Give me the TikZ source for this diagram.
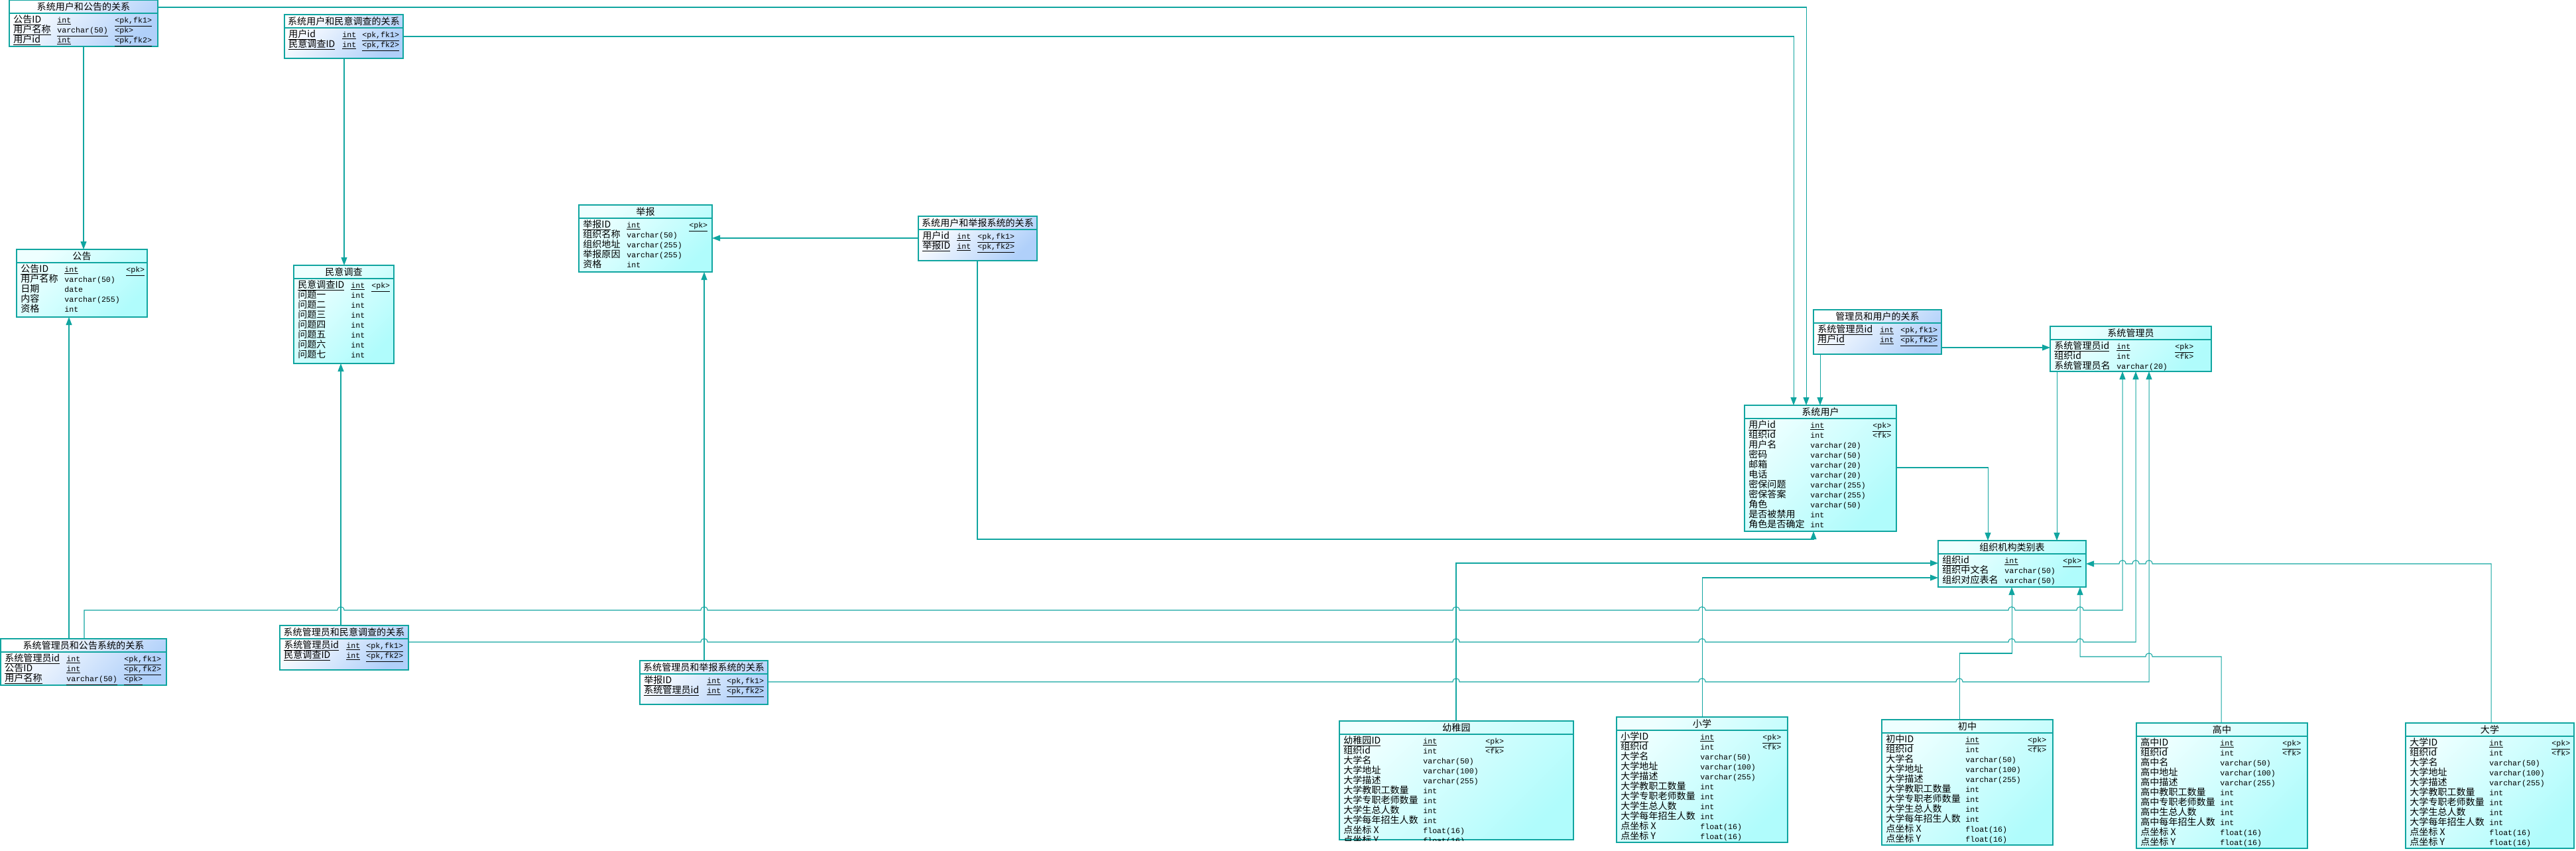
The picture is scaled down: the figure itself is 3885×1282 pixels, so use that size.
\documentclass[tikz,border=0pt]{standalone}
\usepackage{fontspec}
\setmainfont{Noto Sans CJK SC}
\newfontfamily\ermono{Liberation Mono}
\usetikzlibrary{arrows.meta, calc}
\definecolor{erline}{RGB}{16,165,160}
\definecolor{entA}{RGB}{238,255,255}
\definecolor{entB}{RGB}{176,252,252}
\definecolor{relA}{RGB}{255,255,255}
\definecolor{relB}{RGB}{176,208,250}
\newcommand{\erfont}{\fontsize{8pt}{9pt}\selectfont}
\newcommand{\typefont}{\fontsize{6.6pt}{8pt}\ermono}
\newcommand{\hop}[2]{-- (#1-5,#2) .. controls (#1-5,#2-7) and (#1+5,#2-7) .. (#1+5,#2)}
\newcommand{\hopl}[2]{-- (#1+5,#2) .. controls (#1+5,#2-7) and (#1-5,#2-7) .. (#1-5,#2)}
\newcommand{\ertable}[7]{%
  \node[#2, minimum width=#5*0.02cm, minimum height=#6*0.02cm] (#1) at (#3,#4) {};
  \node[ttl] at ($(#1.north)+(0,10)$) {#7};
  \draw[tline] ($(#1.north west)+(0,20)$) -- ($(#1.north east)+(0,20)$);}
\newcommand{\erfields}[4]{%
  \foreach \rowname/\rowtype/\rowkey/\rowul [count=\i from 0] in {#4}{%
    \ifnum\rowul=1 \let\rowfmt\underline \else \let\rowfmt\relax \fi
    \node[fld] at ($(#1.north west)+(6,34+15*\i)$) {\rowfmt{\rowname}};
    \node[fld, font=\typefont] at ($(#1.north west)+(#2,34+15*\i)$) {\rowfmt{\rowtype}};
    \node[fld, font=\typefont] at ($(#1.north west)+(#3,34+15*\i)$) {\rowfmt{\rowkey}};}}
\newcommand{\schoolfields}[3]{\erfields{#1}{126}{220}{%
  {#2}/int/{<pk>}/1, 组织id/int/{<fk>}/0, #3名/varchar(50)//0, #3地址/varchar(100)//0,
  #3描述/varchar(255)//0, #3教职工数量/int//0, #3专职老师数量/int//0, #3生总人数/int//0,
  #3每年招生人数/int//0, 点坐标 X/float(16)//0, 点坐标 Y/float(16)//0}}

\begin{document}
\begin{tikzpicture}[x=0.02cm, y=-0.02cm,
  tbl/.style={anchor=north west, inner sep=0, outer sep=0, draw=erline, line width=0.7pt},
  ent/.style={tbl, left color=entA, right color=entB, shading angle=45},
  rel/.style={tbl, left color=relA, right color=relB, shading angle=45},
  ttl/.style={inner sep=0, font=\erfont},
  fld/.style={anchor=base west, inner sep=0, font=\erfont},
  tline/.style={draw=erline, line width=0.7pt},
  fk/.style={draw=erline, line width=0.6pt, -{Triangle[length=2.4mm,width=1.8mm]}}]
\path[use as bounding box, fill=white] (0,0) rectangle (3885,1282);

\ertable{yhgg}{rel}{14}{0}{224}{70}{系统用户和公告的关系}
\erfields{yhgg}{72}{159}{公告ID/int/{<pk,fk1>}/1, 用户名称/varchar(50)/{<pk>}/1, 用户id/int/{<pk,fk2>}/1}
\ertable{yhmy}{rel}{429}{22}{179}{66}{系统用户和民意调查的关系}
\erfields{yhmy}{87}{117}{用户id/int/{<pk,fk1>}/1, 民意调查ID/int/{<pk,fk2>}/1}
\ertable{gonggao}{ent}{25}{376}{197}{102}{公告}
\erfields{gonggao}{72}{165}{公告ID/int/{<pk>}/1, 用户名称/varchar(50)//0, 日期/date//0, 内容/varchar(255)//0, 资格/int//0}
\ertable{minyi}{ent}{443}{400}{151}{148}{民意调查}
\erfields{minyi}{86}{117}{民意调查ID/int/{<pk>}/1, 问题一/int//0, 问题二/int//0, 问题三/int//0, 问题四/int//0, 问题五/int//0, 问题六/int//0, 问题七/int//0}
\ertable{jubao}{ent}{873}{309}{201}{101}{举报}
\erfields{jubao}{72}{166}{举报ID/int/{<pk>}/1, 组织名称/varchar(50)//0, 组织地址/varchar(255)//0, 举报原因/varchar(255)//0, 资格/int//0}
\ertable{yhjb}{rel}{1385}{326}{179}{67}{系统用户和举报系统的关系}
\erfields{yhjb}{58}{89}{用户id/int/{<pk,fk1>}/1, 举报ID/int/{<pk,fk2>}/1}
\ertable{glyh}{rel}{2735}{467}{193}{67}{管理员和用户的关系}
\erfields{glyh}{100}{131}{系统管理员id/int/{<pk,fk1>}/1, 用户id/int/{<pk,fk2>}/1}
\ertable{guanli}{ent}{3092}{492}{243}{68}{系统管理员}
\erfields{guanli}{100}{188}{系统管理员id/int/{<pk>}/1, 组织id/int/{<fk>}/0, 系统管理员名/varchar(20)//0}
\ertable{yonghu}{ent}{2631}{611}{229}{190}{系统用户}
\erfields{yonghu}{99}{193}{用户id/int/{<pk>}/1, 组织id/int/{<fk>}/0, 用户名/varchar(20)//0, 密码/varchar(50)//0, 邮箱/varchar(20)//0, 电话/varchar(20)//0, 密保问题/varchar(255)//0, 密保答案/varchar(255)//0, 角色/varchar(50)//0, 是否被禁用/int//0, 角色是否确定/int//0}
\ertable{zuzhi}{ent}{2923}{815}{223}{70}{组织机构类别表}
\erfields{zuzhi}{100}{188}{组织id/int/{<pk>}/1, 组织中文名/varchar(50)//0, 组织对应表名/varchar(50)//0}
\ertable{glgg}{rel}{1}{963}{250}{70}{系统管理员和公告系统的关系}
\erfields{glgg}{99}{186}{系统管理员id/int/{<pk,fk1>}/1, 公告ID/int/{<pk,fk2>}/1, 用户名称/varchar(50)/{<pk>}/1}
\ertable{glmy}{rel}{422}{943}{194}{67}{系统管理员和民意调查的关系}
\erfields{glmy}{100}{130}{系统管理员id/int/{<pk,fk1>}/1, 民意调查ID/int/{<pk,fk2>}/1}
\ertable{gljb}{rel}{965}{996}{193}{66}{系统管理员和举报系统的关系}
\erfields{gljb}{101}{131}{举报ID/int/{<pk,fk1>}/1, 系统管理员id/int/{<pk,fk2>}/1}
\begin{scope}
\clip (2019,1086) rectangle (2374,1267);
\ertable{youer}{ent}{2020}{1087}{353}{179}{幼稚园}
\schoolfields{youer}{幼稚园ID}{大学}
\end{scope}
\ertable{xiaoxue}{ent}{2438}{1081}{258}{189}{小学}
\schoolfields{xiaoxue}{小学ID}{大学}
\ertable{chuzhong}{ent}{2838}{1085}{258}{189}{初中}
\schoolfields{chuzhong}{初中ID}{大学}
\ertable{gaozhong}{ent}{3222}{1090}{258}{189}{高中}
\schoolfields{gaozhong}{高中ID}{高中}
\ertable{daxue}{ent}{3628}{1090}{254}{189}{大学}
\schoolfields{daxue}{大学ID}{大学}

\draw[fk] ($(yhgg.north east)+(0,11)$) -| ($(yonghu.north west)+(93,0)$);
\draw[fk] ($(yhgg.south west)+(112,0)$) -- ($(gonggao.north west)+(101,0)$);
\draw[fk] ($(yhmy.north east)+(0,33)$) -| ($(yonghu.north west)+(74,0)$);
\draw[fk] ($(yhmy.south west)+(90,0)$) -- ($(minyi.north west)+(76,0)$);
\draw[fk] ($(yhjb.north west)+(0,33)$) -- ($(jubao.north east)+(0,50)$);
\draw[fk] ($(yhjb.south west)+(89,0)$) -- ++(0,420) -| ($(yonghu.south west)+(104,0)$);
\draw[fk] ($(glyh.south west)+(10,0)$) -- ($(yonghu.north west)+(114,0)$);
\draw[fk] ($(glyh.north east)+(0,57)$) -- ($(guanli.north west)+(0,32)$);
\draw[fk] ($(yonghu.north east)+(0,94)$) -| ($(zuzhi.north west)+(75,0)$);
\draw[fk] ($(guanli.south west)+(10,0)$) -- ($(zuzhi.north west)+(179,0)$);
\draw[fk] ($(gljb.north west)+(97,0)$) -- ($(jubao.south west)+(189,0)$);
\draw[fk] ($(glmy.north west)+(92,0)$) -- ($(minyi.south west)+(71,0)$);
\draw[fk] ($(glgg.north west)+(103,0)$) -- ($(gonggao.south west)+(79,0)$);
\draw[fk] ($(glgg.north west)+(126,0)$) -- ++(0,-43) \hop{514}{920}\hop{1062}{920}\hop{2196}{920}\hop{2567}{920}\hop{3034}{920}\hop{3137}{920} -| ($(guanli.south west)+(109,0)$);
\draw[fk] ($(glmy.north east)+(0,25)$) \hop{1062}{968}\hop{2196}{968}\hop{2567}{968}\hop{3034}{968}\hop{3137}{968} -| ($(guanli.south west)+(129,0)$);
\draw[fk] ($(gljb.north east)+(0,32)$) \hop{2196}{1028}\hop{2567}{1028}\hop{2955}{1028} -| ($(guanli.south west)+(149,0)$);
\draw[fk] ($(youer.north west)+(176,0)$) |- ($(zuzhi.north west)+(0,34)$);
\draw[fk] ($(xiaoxue.north west)+(129,0)$) |- ($(zuzhi.north west)+(0,56)$);
\draw[fk] ($(chuzhong.north west)+(117,0)$) -- ++(0,-100) -| ($(zuzhi.south west)+(111,0)$);
\draw[fk] ($(gaozhong.north west)+(128,0)$) -- ++(0,-100) \hopl{3241}{990} -| ($(zuzhi.south west)+(214,0)$);
\draw[fk] ($(daxue.north west)+(129,0)$) -- ++(0,-240) \hopl{3241}{850}\hopl{3221}{850}\hopl{3201}{850} -- (zuzhi.east);
\end{tikzpicture}
\end{document}
